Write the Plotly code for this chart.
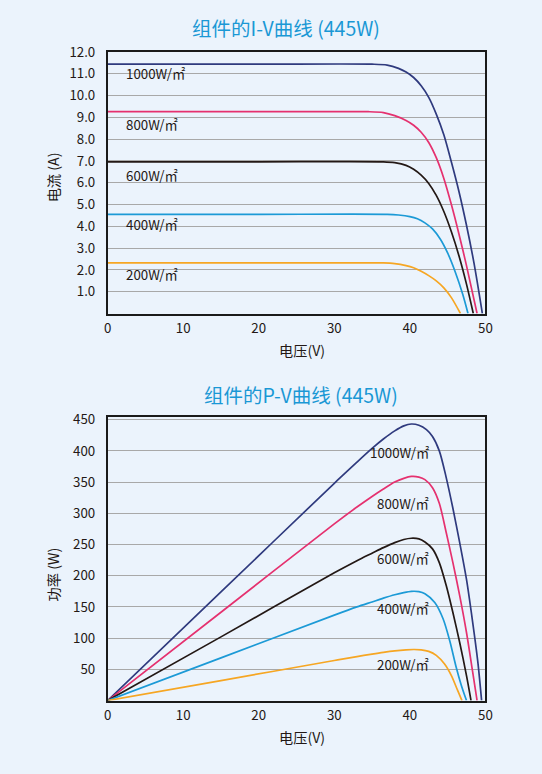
import plotly.graph_objects as go

# ---------------- data ----------------
irradiance = ["1000W/㎡", "800W/㎡", "600W/㎡", "400W/㎡", "200W/㎡"]
colors = ["#2f3a7e", "#e5316f", "#231815", "#1c9ad6", "#f6a623"]

# I-V curves (voltage V, current A)
iv_v_1000 = [0, 20, 35, 37, 38.5, 39.5, 40.5, 41.5, 42.5, 43.5, 44.5, 45.5, 46.5, 47.5, 48.5, 49.6]
iv_i_1000 = [11.44, 11.44, 11.44, 11.40, 11.25, 11.08, 10.83, 10.45, 9.92, 9.15, 8.20, 6.95, 5.60, 4.05, 2.30, 0]
iv_v_800 = [0, 20, 34.5, 36.5, 38, 39.5, 40.5, 41.5, 42.5, 43.5, 44.5, 45.5, 46.5, 47.5, 48.9]
iv_i_800 = [9.26, 9.26, 9.26, 9.22, 9.08, 8.86, 8.64, 8.32, 7.85, 7.15, 6.20, 5.00, 3.65, 2.20, 0]
iv_v_600 = [0, 20, 36.5, 38, 39.5, 40.5, 41.5, 42.5, 43.5, 44.5, 45.5, 46.5, 47.5, 48.4]
iv_i_600 = [6.96, 6.96, 6.96, 6.92, 6.80, 6.62, 6.35, 5.97, 5.42, 4.68, 3.75, 2.65, 1.35, 0]
iv_v_400 = [0, 20, 37, 38.5, 40, 41, 42, 43, 44, 45, 46, 47, 47.7]
iv_i_400 = [4.55, 4.55, 4.55, 4.52, 4.45, 4.35, 4.16, 3.88, 3.43, 2.78, 1.92, 0.88, 0]
iv_v_200 = [0, 20, 36.5, 38, 39.5, 40.5, 41.5, 42.5, 43.5, 44.5, 45.5, 46.7]
iv_i_200 = [2.32, 2.32, 2.32, 2.29, 2.20, 2.10, 1.94, 1.74, 1.50, 1.18, 0.73, 0]

# P-V curves (voltage V, power W)
pv_v_1000 = [0, 15, 30, 33, 35, 36.5, 38, 39.2, 40.2, 41.2, 42.2, 43.0, 43.9, 44.8, 45.7, 46.6, 47.5, 48.3, 49.0, 49.5]
pv_p_1000 = [0, 174, 348, 382, 404, 419, 432, 440, 443, 441, 434, 423, 400, 358, 308, 253, 194, 127, 62, 0]
pv_v_800 = [0, 15, 30, 33, 35, 36.5, 38, 39.2, 40.2, 41.2, 42.0, 43.0, 43.9, 44.8, 45.7, 46.6, 47.5, 48.3, 48.9]
pv_p_800 = [0, 141.5, 283, 310, 327, 339, 350, 356, 359, 358, 354, 341, 316, 270, 221, 168, 109, 47, 0]
pv_v_600 = [0, 15, 30, 33, 35, 36.5, 38, 39.2, 40.2, 41.2, 42.0, 43.0, 43.9, 44.8, 45.7, 46.6, 47.5, 48.1]
pv_p_600 = [0, 102, 204.6, 224, 236, 245, 253, 258, 260, 259, 254, 243, 221, 185, 141, 93, 40, 0]
pv_v_400 = [0, 15, 30, 33, 35, 36.5, 38, 39.2, 40.2, 41.2, 42.0, 43.3, 44.4, 45.3, 46.1, 46.8, 47.5]
pv_p_400 = [0, 68.4, 136.8, 150, 158, 164, 169.5, 173, 175, 174.5, 171, 157, 131, 95, 55, 25, 0]
pv_v_200 = [0, 15, 30, 33, 35, 36.5, 38, 39.5, 40.5, 41.5, 42.5, 43.5, 44.6, 45.5, 46.3, 46.9]
pv_p_200 = [0, 32, 64.2, 70.5, 74.5, 77.3, 79.6, 81.2, 81.8, 81.3, 78.8, 72.5, 58.5, 40, 17, 0]

# label positions
iv_label_v = [2.15, 2.15, 2.15, 2.15, 2.15]
iv_label_i = [11.0, 8.66, 6.33, 4.08, 1.78]
pv_label_v = [42.8, 42.8, 42.8, 42.8, 42.8]
pv_label_p = [398, 316, 227, 147, 57]

x_ticks = [0, 10, 20, 30, 40, 50]
iv_y_ticks = [1, 2, 3, 4, 5, 6, 7, 8, 9, 10, 11, 12]
iv_y_ticktext = ["1.0", "2.0", "3.0", "4.0", "5.0", "6.0", "7.0", "8.0", "9.0", "10.0", "11.0", "12.0"]
pv_y_ticks = [50, 100, 150, 200, 250, 300, 350, 400, 450]

titles = ["组件的I-V曲线 (445W)", "组件的P-V曲线 (445W)"]
x_title = "电压(V)"
iv_y_title = "电流 (A)"
pv_y_title = "功率 (W)"

# ---------------- figure ----------------
W, H = 542, 774
BG = "#ebf3fc"
TXT = "#231815"
FONT = "Noto Sans CJK SC"

# compensation for the observed offset/scale of the captured page
AX, SX = 3.0, 0.983
AY, SY = 9.5, 0.987

def px_x(p):
    return ((p - AX) / SX) / W

def px_y(p):
    return 1 - ((p - AY) / SY) / H

fig = go.Figure()

iv_series = [(iv_v_1000, iv_i_1000), (iv_v_800, iv_i_800), (iv_v_600, iv_i_600),
             (iv_v_400, iv_i_400), (iv_v_200, iv_i_200)]
pv_series = [(pv_v_1000, pv_p_1000), (pv_v_800, pv_p_800), (pv_v_600, pv_p_600),
             (pv_v_400, pv_p_400), (pv_v_200, pv_p_200)]

for (v, i), c, name in zip(iv_series, colors, irradiance):
    fig.add_trace(go.Scatter(x=v, y=i, mode="lines", name=name,
                             line=dict(color=c, width=1.7, shape="spline", smoothing=0.8),
                             xaxis="x", yaxis="y", showlegend=False, hoverinfo="skip"))
for (v, p), c, name in zip(pv_series, colors, irradiance):
    fig.add_trace(go.Scatter(x=v, y=p, mode="lines", name=name,
                             line=dict(color=c, width=1.7, shape="spline", smoothing=0.8),
                             xaxis="x2", yaxis="y2", showlegend=False, hoverinfo="skip"))

# curve labels
for lv, li, t in zip(iv_label_v, iv_label_i, irradiance):
    fig.add_annotation(x=lv, y=li, xref="x", yref="y", text=t, showarrow=False,
                       xanchor="left", yanchor="middle", font=dict(size=13.3, color=TXT, family=FONT))
for lv, lp, t in zip(pv_label_v, pv_label_p, irradiance):
    fig.add_annotation(x=lv, y=lp, xref="x2", yref="y2", text=t, showarrow=False,
                       xanchor="right", yanchor="middle", font=dict(size=13.3, color=TXT, family=FONT))

# titles
fig.add_annotation(x=px_x(286), y=px_y(26.5), xref="paper", yref="paper", text=titles[0],
                   showarrow=False, xanchor="center", yanchor="middle",
                   font=dict(size=19.5, color="#1a98d5", family=FONT))
fig.add_annotation(x=px_x(301), y=px_y(393.5), xref="paper", yref="paper", text=titles[1],
                   showarrow=False, xanchor="center", yanchor="middle",
                   font=dict(size=19.5, color="#1a98d5", family=FONT))
# axis titles
for yy in (349, 736.5):
    fig.add_annotation(x=px_x(302), y=px_y(yy), xref="paper", yref="paper", text=x_title,
                       showarrow=False, xanchor="center", yanchor="middle",
                       font=dict(size=14.2, color=TXT, family=FONT))
fig.add_annotation(x=px_x(52), y=px_y(177), xref="paper", yref="paper", text=iv_y_title,
                   showarrow=False, textangle=-90, xanchor="center", yanchor="middle",
                   font=dict(size=14.2, color=TXT, family=FONT))
fig.add_annotation(x=px_x(52), y=px_y(574), xref="paper", yref="paper", text=pv_y_title,
                   showarrow=False, textangle=-90, xanchor="center", yanchor="middle",
                   font=dict(size=14.2, color=TXT, family=FONT))

axis_common = dict(showline=True, linecolor="#1a1a1a", linewidth=1.5, mirror=True,
                   ticks="", zeroline=False, tickfont=dict(size=13.3, color=TXT, family=FONT))
xdom = [px_x(107), px_x(486)]

fig.update_layout(
    width=W, height=H,
    margin=dict(l=0, r=0, t=0, b=0),
    paper_bgcolor=BG, plot_bgcolor=BG,
    font=dict(family=FONT, color=TXT),
    showlegend=False,
    xaxis=dict(domain=xdom, range=[0, 50], tickvals=x_ticks, showgrid=False,
               anchor="y", ticklabelstandoff=2, **axis_common),
    yaxis=dict(domain=[px_y(313), px_y(51.5)], range=[0, 12], tickvals=iv_y_ticks,
               ticktext=iv_y_ticktext, showgrid=True, gridcolor="#a8a8a8", gridwidth=1.2,
               anchor="x", ticklabelstandoff=8, **axis_common),
    xaxis2=dict(domain=xdom, range=[0, 50], tickvals=x_ticks, showgrid=False,
                anchor="y2", ticklabelstandoff=2, **axis_common),
    yaxis2=dict(domain=[px_y(700), px_y(416)], range=[0, 455], tickvals=pv_y_ticks,
                showgrid=True, gridcolor="#a8a8a8", gridwidth=1.2,
                anchor="x2", ticklabelstandoff=8, **axis_common),
)

fig.write_html("out.html")
